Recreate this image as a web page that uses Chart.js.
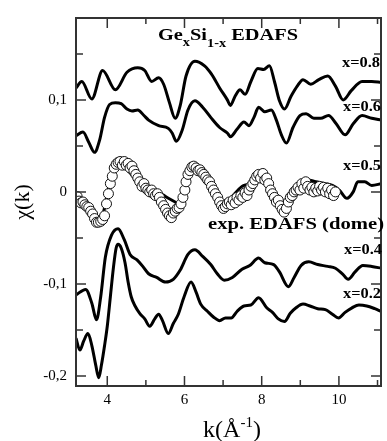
<!DOCTYPE html>
<html>
<head>
<meta charset="utf-8">
<script src="https://cdn.jsdelivr.net/npm/chart.js@4.4.1/dist/chart.umd.min.js"></script>
<style>
    html, body { margin: 0; padding: 0; background: #fff; }
    #wrap { width: 387px; height: 441px; }
</style>
</head>
<body>
<div id="wrap"><canvas id="chart" width="387" height="441"></canvas></div>
<script>
// tick positions (k in 1/A, chi)
const xTicks = [4, 5, 6, 7, 8, 9, 10, 11];
const yTicks = [-0.2, -0.15, -0.1, -0.05, 0, 0.05, 0.1, 0.15];

// x = 0.8
const k08 = [3.19,3.34,3.60,3.88,4.21,4.51,4.79,4.97,5.15,5.33,5.46,5.61,5.76,5.89,6.04,6.27,6.52,6.70,6.91,7.11,7.19,7.31,7.44,7.57,7.72,7.90,8.05,8.20,8.33,8.46,8.59,8.76,8.92,9.07,9.27,9.48,9.71,9.91,10.11,10.32,10.60,10.85,11.10];
const chi08 = [0.113,0.120,0.101,0.132,0.111,0.130,0.135,0.132,0.120,0.124,0.117,0.097,0.080,0.094,0.126,0.142,0.137,0.128,0.113,0.100,0.094,0.104,0.111,0.106,0.120,0.134,0.133,0.137,0.120,0.099,0.090,0.104,0.115,0.122,0.117,0.122,0.126,0.115,0.100,0.110,0.120,0.120,0.119];

// x = 0.6
const k06 = [3.19,3.37,3.52,3.67,3.80,3.93,4.06,4.21,4.36,4.51,4.64,4.79,4.95,5.07,5.33,5.58,5.68,5.79,5.94,6.09,6.27,6.47,6.68,6.91,7.11,7.19,7.36,7.54,7.67,7.80,7.92,8.08,8.25,8.38,8.51,8.64,8.81,8.99,9.15,9.35,9.53,9.73,9.93,10.16,10.37,10.60,10.85,11.10];
const chi06 = [0.061,0.065,0.054,0.043,0.056,0.081,0.095,0.097,0.096,0.090,0.088,0.089,0.083,0.078,0.072,0.069,0.064,0.055,0.067,0.089,0.099,0.092,0.081,0.070,0.064,0.060,0.068,0.076,0.072,0.081,0.092,0.087,0.089,0.078,0.062,0.053,0.070,0.083,0.085,0.080,0.080,0.083,0.074,0.062,0.074,0.083,0.080,0.078];

// x = 0.5
const k05 = [3.19,3.34,3.50,3.65,3.75,3.88,4.00,4.13,4.26,4.39,4.56,4.74,4.90,5.07,5.25,5.43,5.63,5.84,5.99,6.17,6.35,6.60,6.80,7.03,7.26,7.49,7.67,7.82,8.00,8.18,8.38,8.56,8.74,8.89,9.07,9.20,9.40,9.65,9.83,10.01,10.21,10.37,10.49,10.67,10.85,11.10];
const chi05 = [-0.009,-0.013,-0.019,-0.027,-0.032,-0.026,-0.002,0.021,0.034,0.032,0.022,0.014,0.009,0.003,0.001,-0.003,-0.008,-0.012,0.006,0.028,0.024,0.014,-0.002,-0.016,-0.004,0.006,0.009,0.016,0.021,0.011,-0.007,-0.013,-0.005,0.001,0.011,0.013,0.011,0.009,0.007,0.002,-0.007,0.000,0.011,0.011,0.007,0.009];

// x = 0.4
const k04 = [3.19,3.44,3.60,3.72,3.83,3.95,4.11,4.28,4.44,4.59,4.77,4.92,5.07,5.28,5.51,5.71,5.89,6.09,6.27,6.47,6.68,6.85,7.03,7.24,7.49,7.69,7.92,8.08,8.31,8.46,8.69,8.84,9.02,9.22,9.45,9.71,9.91,10.09,10.24,10.42,10.62,10.85,11.10];
const chi04 = [-0.112,-0.106,-0.121,-0.139,-0.114,-0.071,-0.047,-0.040,-0.052,-0.068,-0.074,-0.081,-0.089,-0.093,-0.098,-0.095,-0.085,-0.068,-0.063,-0.070,-0.079,-0.089,-0.096,-0.093,-0.084,-0.080,-0.072,-0.077,-0.079,-0.087,-0.103,-0.093,-0.080,-0.076,-0.079,-0.081,-0.083,-0.089,-0.095,-0.087,-0.080,-0.081,-0.083];

// x = 0.2
const k02 = [3.19,3.29,3.39,3.50,3.60,3.70,3.78,3.85,3.93,4.00,4.08,4.16,4.23,4.28,4.36,4.46,4.54,4.62,4.72,4.84,4.97,5.10,5.23,5.33,5.43,5.58,5.71,5.84,5.99,6.17,6.30,6.42,6.60,6.75,6.91,7.06,7.21,7.36,7.54,7.72,7.92,8.13,8.28,8.43,8.59,8.74,8.89,9.07,9.25,9.45,9.65,9.83,9.99,10.16,10.34,10.52,10.72,10.93,11.10];
const chi02 = [-0.159,-0.172,-0.162,-0.154,-0.167,-0.188,-0.202,-0.188,-0.167,-0.146,-0.114,-0.082,-0.061,-0.057,-0.061,-0.077,-0.098,-0.114,-0.124,-0.132,-0.138,-0.146,-0.138,-0.133,-0.140,-0.154,-0.143,-0.133,-0.114,-0.098,-0.109,-0.122,-0.130,-0.136,-0.140,-0.137,-0.137,-0.130,-0.124,-0.123,-0.115,-0.126,-0.131,-0.138,-0.141,-0.132,-0.126,-0.122,-0.124,-0.127,-0.128,-0.133,-0.137,-0.131,-0.126,-0.123,-0.124,-0.127,-0.130];

// exp. EDAFS (dome)
const kExp = [3.17,3.22,3.27,3.32,3.37,3.42,3.47,3.52,3.57,3.62,3.67,3.72,3.77,3.83,3.88,3.93,3.98,4.03,4.08,4.13,4.18,4.23,4.28,4.33,4.39,4.44,4.49,4.54,4.59,4.64,4.69,4.74,4.79,4.84,4.90,4.95,5.00,5.05,5.10,5.15,5.20,5.25,5.30,5.35,5.40,5.46,5.51,5.56,5.61,5.66,5.71,5.76,5.81,5.86,5.91,5.96,6.01,6.04,6.09,6.14,6.19,6.24,6.30,6.35,6.40,6.45,6.50,6.55,6.60,6.65,6.70,6.75,6.80,6.86,6.91,6.96,7.01,7.06,7.11,7.16,7.21,7.26,7.31,7.36,7.41,7.46,7.51,7.57,7.62,7.67,7.72,7.77,7.82,7.87,7.92,7.97,8.03,8.08,8.13,8.18,8.23,8.28,8.33,8.38,8.43,8.48,8.53,8.58,8.64,8.69,8.74,8.79,8.84,8.89,8.94,8.99,9.04,9.09,9.14,9.19,9.25,9.30,9.35,9.40,9.45,9.50,9.55,9.60,9.65,9.71,9.76,9.81,9.86,9.91];
const chiExp = [-0.006,-0.005,-0.010,-0.012,-0.011,-0.014,-0.016,-0.017,-0.021,-0.024,-0.029,-0.033,-0.033,-0.032,-0.030,-0.026,-0.013,-0.002,0.009,0.017,0.026,0.030,0.032,0.033,0.029,0.033,0.029,0.031,0.026,0.028,0.023,0.019,0.015,0.011,0.006,0.009,0.004,0.002,0.000,0.002,-0.002,-0.004,-0.002,-0.006,-0.011,-0.015,-0.019,-0.023,-0.026,-0.028,-0.023,-0.021,-0.018,-0.017,-0.013,-0.006,0.002,0.011,0.019,0.023,0.027,0.028,0.026,0.023,0.024,0.021,0.019,0.016,0.013,0.011,0.006,0.002,-0.002,-0.006,-0.011,-0.015,-0.018,-0.016,-0.013,-0.011,-0.014,-0.009,-0.012,-0.006,-0.009,-0.004,-0.006,-0.001,-0.004,0.002,0.006,0.009,0.013,0.017,0.019,0.015,0.020,0.013,0.015,0.009,0.002,-0.002,-0.006,-0.011,-0.009,-0.015,-0.019,-0.022,-0.018,-0.011,-0.006,-0.004,0.000,0.002,0.005,0.002,0.009,0.004,0.011,0.006,0.002,0.005,0.000,0.004,0.001,0.006,0.002,0.005,0.000,0.004,-0.002,0.002,-0.004,0.000];

var SERIF = '"Liberation Serif", "Times New Roman", serif';

function pts(xs, ys) {
    return xs.map(function (x, i) { return { x: x, y: ys[i] }; });
}

function isStep(v, n) {
    return Math.abs(v * n - Math.round(v * n)) < 1e-6;
}

function curve(label, xs, ys) {
    return {
        label: label,
        data: pts(xs, ys),
        showLine: true,
        borderColor: '#000',
        borderWidth: 3,
        pointRadius: 0,
        cubicInterpolationMode: 'monotone',
        fill: false,
        order: 1
    };
}

// text squeezed/stretched to the span it takes in the figure
function spanText(ctx, str, left, right, base, size, weight) {
    ctx.font = (weight || 'bold') + ' ' + size + 'px ' + SERIF;
    var w = ctx.measureText(str).width;
    ctx.save();
    ctx.translate(left, base);
    ctx.scale((right - left) / w, 1);
    ctx.textAlign = 'left';
    ctx.textBaseline = 'alphabetic';
    ctx.fillText(str, 0, 0);
    ctx.restore();
}

var decor = {
    id: 'decor',
    afterDraw: function (chart) {
        var ctx = chart.ctx, a = chart.chartArea;
        var xs = chart.scales.x, ys = chart.scales.y;
        ctx.save();
        ctx.strokeStyle = '#333';
        ctx.lineWidth = 1.5;
        ctx.beginPath();
        xTicks.forEach(function (v) {
            var p = xs.getPixelForValue(v);
            var len = isStep(v / 2, 1) ? 10 : 6;
            ctx.moveTo(p, a.bottom); ctx.lineTo(p, a.bottom - len);
            ctx.moveTo(p, a.top); ctx.lineTo(p, a.top + len);
        });
        yTicks.forEach(function (v) {
            var p = ys.getPixelForValue(v);
            var len = isStep(v, 10) ? 10 : 7;
            ctx.moveTo(a.left, p); ctx.lineTo(a.left + len, p);
            ctx.moveTo(a.right, p); ctx.lineTo(a.right - len, p);
        });
        ctx.stroke();
        ctx.lineWidth = 2;
        ctx.strokeRect(a.left, a.top, a.right - a.left, a.bottom - a.top);

        ctx.fillStyle = '#000';
        // title with subscripts
        var parts = [['Ge', 17, 0], ['x', 12, 6], ['Si', 17, 0], ['1-x', 12, 7], [' EDAFS', 17, 0]];
        var total = 0;
        parts.forEach(function (p) {
            ctx.font = 'bold ' + p[1] + 'px ' + SERIF;
            p.push(ctx.measureText(p[0]).width);
            total += p[3];
        });
        var sx = 140 / total, cx = 158;
        parts.forEach(function (p) {
            spanText(ctx, p[0], cx, cx + p[3] * sx, 40 + p[2], p[1]);
            cx += p[3] * sx;
        });

        spanText(ctx, 'x=0.8', 342, 380, 67, 14);
        spanText(ctx, 'x=0.6', 343, 381, 111, 14);
        spanText(ctx, 'x=0.5', 343, 381, 170, 14);
        spanText(ctx, 'exp. EDAFS (dome)', 208, 384, 229, 16);
        spanText(ctx, 'x=0.4', 344, 382, 254, 14);
        spanText(ctx, 'x=0.2', 343, 381, 298, 14);

        // x axis title k(A^-1)
        ctx.font = '24px ' + SERIF;
        var w1 = ctx.measureText('k(\u00C5').width;
        var w3 = ctx.measureText(')').width;
        ctx.font = '15px ' + SERIF;
        var w2 = ctx.measureText('-1').width;
        var x0 = 232 - (w1 + w2 + w3) / 2, base = 437;
        ctx.textAlign = 'left';
        ctx.textBaseline = 'alphabetic';
        ctx.font = '24px ' + SERIF;
        ctx.fillText('k(\u00C5', x0, base);
        ctx.font = '15px ' + SERIF;
        ctx.fillText('-1', x0 + w1, base - 10);
        ctx.font = '24px ' + SERIF;
        ctx.fillText(')', x0 + w1 + w2, base);
        ctx.restore();
    }
};

new Chart(document.getElementById('chart').getContext('2d'), {
    type: 'scatter',
    data: {
        datasets: [
            {
                label: 'exp. EDAFS (dome)',
                data: pts(kExp, chiExp),
                showLine: false,
                pointRadius: 5,
                pointBackgroundColor: '#fff',
                pointBorderColor: '#111',
                pointBorderWidth: 1,
                order: 0
            },
            curve('x=0.8', k08, chi08),
            curve('x=0.6', k06, chi06),
            curve('x=0.5', k05, chi05),
            curve('x=0.4', k04, chi04),
            curve('x=0.2', k02, chi02)
        ]
    },
    options: {
        responsive: false,
        animation: false,
        devicePixelRatio: 1,
        layout: { padding: { top: 10, right: 1, left: 0, bottom: 0 } },
        plugins: { legend: { display: false }, tooltip: { enabled: false } },
        scales: {
            x: {
                type: 'linear',
                min: 3.19,
                max: 11.09,
                grid: { display: false, drawTicks: false },
                border: { display: false },
                afterBuildTicks: function (s) { s.ticks = xTicks.map(function (v) { return { value: v }; }); },
                afterFit: function (s) { s.height = 55; },
                ticks: {
                    autoSkip: false,
                    maxRotation: 0,
                    padding: 5,
                    color: '#000',
                    font: { family: SERIF, size: 15 },
                    callback: function (v) { return isStep(v / 2, 1) ? String(v) : ''; }
                }
            },
            y: {
                type: 'linear',
                min: -0.211,
                max: 0.189,
                grid: { display: false, drawTicks: false },
                border: { display: false },
                afterBuildTicks: function (s) { s.ticks = yTicks.map(function (v) { return { value: v }; }); },
                afterFit: function (s) { s.width = 76; },
                title: {
                    display: true,
                    text: '\u03C7(k)',
                    color: '#000',
                    font: { family: SERIF, size: 22 },
                    padding: { top: 10, bottom: 0 }
                },
                ticks: {
                    autoSkip: false,
                    padding: 9,
                    color: '#000',
                    font: { family: SERIF, size: 15 },
                    callback: function (v) {
                        if (!isStep(v, 10)) return '';
                        if (Math.abs(v) < 1e-9) return '0';
                        return v.toFixed(1).replace('.', ',');
                    }
                }
            }
        }
    },
    plugins: [decor]
});
</script>
</body>
</html>
